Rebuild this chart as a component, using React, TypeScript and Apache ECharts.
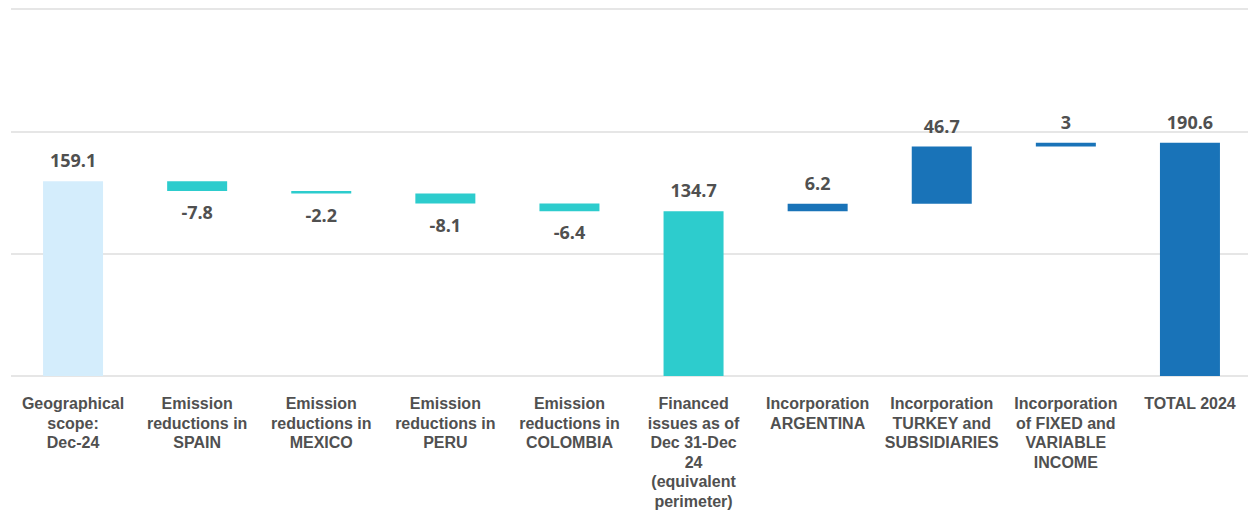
import React, { useEffect, useRef } from "react";
import * as echarts from "echarts";

const categories = [
  "Geographical\nscope:\nDec-24",
  "Emission\nreductions in\nSPAIN",
  "Emission\nreductions in\nMEXICO",
  "Emission\nreductions in\nPERU",
  "Emission\nreductions in\nCOLOMBIA",
  "Financed\nissues as of\nDec 31-Dec\n24\n(equivalent\nperimeter)",
  "Incorporation\nARGENTINA",
  "Incorporation\nTURKEY and\nSUBSIDIARIES",
  "Incorporation\nof FIXED and\nVARIABLE\nINCOME",
  "TOTAL 2024",
];
// delta values; "total" kinds start at zero
const values = [159.1, -7.8, -2.2, -8.1, -6.4, 134.7, 6.2, 46.7, 3, 190.6];
const kinds = ["total", "delta", "delta", "delta", "delta", "total", "delta", "delta", "delta", "total"];
const barColors = ["#D4EDFC", "#2DCCCD", "#2DCCCD", "#2DCCCD", "#2DCCCD", "#2DCCCD", "#1973B8", "#1973B8", "#1973B8", "#1973B8"];
const yTicks = { min: 0, max: 300, interval: 100 };

export default function App() {
  const ref = useRef<HTMLDivElement>(null);
  useEffect(() => {
    document.body.style.margin = "0";
    document.body.style.overflow = "hidden";
    const chart = echarts.init(ref.current!, undefined, { renderer: "svg" });
    let running = 0;
    const base: number[] = [];
    const vis: any[] = [];
    values.forEach((v, i) => {
      if (kinds[i] === "total") {
        base.push(0);
        running = v;
        vis.push({
          value: v,
          itemStyle: { color: barColors[i] },
          label: { position: "top", distance: 12, formatter: String(v) },
        });
      } else {
        const start = running;
        const end = running + v;
        running = end;
        base.push(Math.min(start, end));
        vis.push({
          value: Math.abs(v),
          itemStyle: { color: barColors[i] },
          label: {
            position: v < 0 ? "bottom" : "top",
            distance: 12,
            formatter: String(v),
          },
        });
      }
    });
    chart.setOption({
      animation: false,
      grid: { left: 11, right: 0, top: 9, bottom: 131 },
      xAxis: {
        type: "category",
        data: categories,
        axisLine: { show: false },
        axisTick: { show: false },
        axisLabel: {
          interval: 0,
          margin: 18,
          color: "#505050",
          fontFamily: "Liberation Sans",
          fontWeight: "bold",
          fontSize: 16,
          lineHeight: 19.5,
          verticalAlign: "top",
        },
      },
      yAxis: {
        type: "value",
        min: yTicks.min,
        max: yTicks.max,
        interval: yTicks.interval,
        axisLabel: { show: false },
        axisLine: { show: false },
        axisTick: { show: false },
        splitLine: { lineStyle: { color: "#e6e6e6", width: 2 } },
      },
      series: [
        {
          type: "bar",
          stack: "w",
          data: base,
          itemStyle: { color: "transparent" },
          barWidth: 60,
          silent: true,
        },
        {
          type: "bar",
          stack: "w",
          data: vis,
          barWidth: 60,
          label: {
            show: true,
            color: "#505050",
            fontFamily: "Open Sans",
            fontWeight: "bold",
            fontSize: 18,
          },
        },
      ],
    });
    return () => chart.dispose();
  }, []);
  return <div ref={ref} style={{ width: 1252, height: 511 }} />;
}
